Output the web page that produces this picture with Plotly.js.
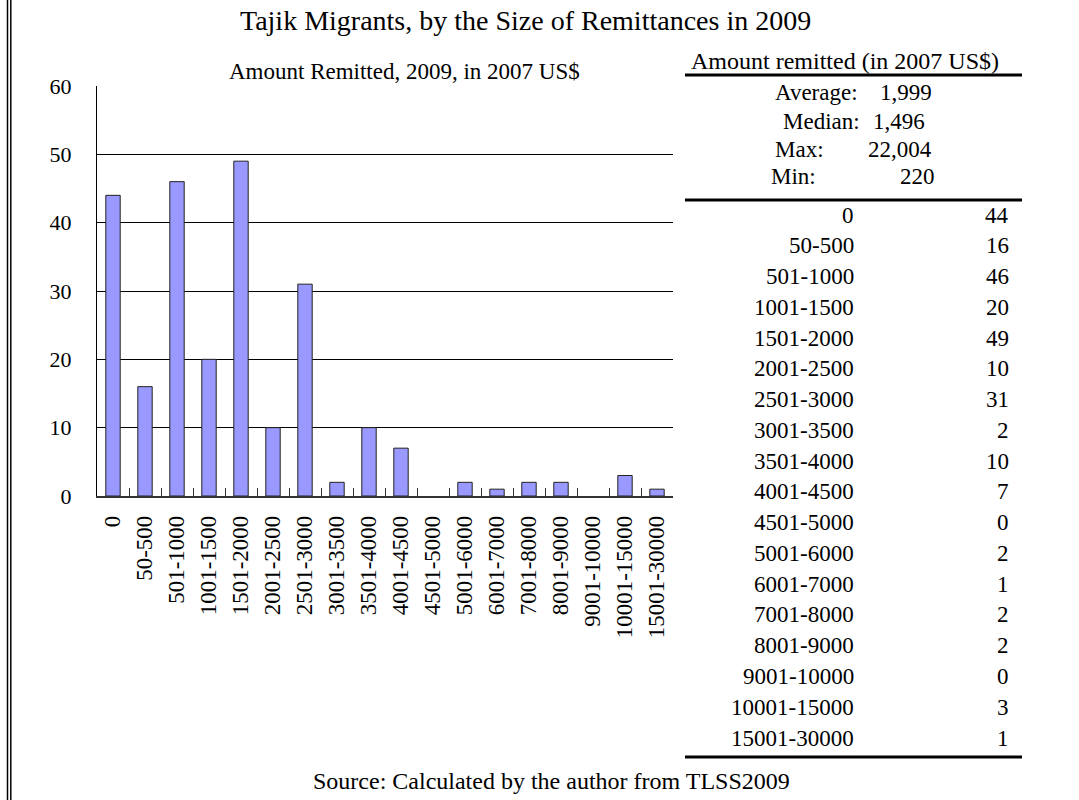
<!DOCTYPE html>
<html>
<head>
<meta charset="utf-8">
<script src="https://cdn.plot.ly/plotly-3.0.1.min.js"></script>
<style>html,body{margin:0;padding:0;background:#fff;}#chart{width:1079px;height:800px;}</style>
</head>
<body>
<div id="chart"></div>
<script>
// ---- data ----
const categories = ["0","50-500","501-1000","1001-1500","1501-2000","2001-2500","2501-3000","3001-3500","3501-4000","4001-4500","4501-5000","5001-6000","6001-7000","7001-8000","8001-9000","9001-10000","10001-15000","15001-30000"];
const counts = [44,16,46,20,49,10,31,2,10,7,0,2,1,2,2,0,3,1];
const statLabels = ["Average:","Median:","Max:","Min:"];
const statValues = ["1,999","1,496","22,004","220"];
const yTicks = [0,10,20,30,40,50,60];

const titleText = "Tajik Migrants, by the Size of Remittances in 2009";
const subTitleText = "Amount Remitted, 2009, in 2007 US$";
const tableHeader = "Amount remitted (in 2007 US$)";
const sourceText = "Source: Calculated by the author from TLSS2009";

// ---- layout helpers ----
const W = 1079, H = 800;
const px = x => x / W;
const py = y => 1 - y / H;
const FONT = '"Liberation Serif", "Times New Roman", serif';

const trace = {
  type: 'bar',
  x: categories,
  y: counts,
  marker: {color: '#9999FF', line: {color: '#222', width: counts.map(v => v > 0 ? 1 : 0)}},
  hoverinfo: 'x+y'
};

const annotations = [];
annotations.push({text: titleText, xref:'paper', yref:'paper', x: px(525), y: py(21), xanchor:'center', yanchor:'middle', showarrow:false, font:{family:FONT, size:28, color:'#000'}});
annotations.push({text: subTitleText, xref:'paper', yref:'paper', x: px(404), y: py(72), xanchor:'center', yanchor:'middle', showarrow:false, font:{family:FONT, size:23, color:'#000'}});
annotations.push({text: tableHeader, xref:'paper', yref:'paper', x: px(845), y: py(61), xanchor:'center', yanchor:'middle', showarrow:false, font:{family:FONT, size:24, color:'#000'}});
annotations.push({text: sourceText, xref:'paper', yref:'paper', x: px(551), y: py(781), xanchor:'center', yanchor:'middle', showarrow:false, font:{family:FONT, size:24, color:'#000'}});

// stats block
const statLabelX = [860, 862, 773, 769];
const statLabelAnchor = ['right','right','left','left'];
const statValueX = [934, 927, 934, 937];
statLabels.forEach((lab, i) => {
  const yy = 93 + i * 28;
  annotations.push({text: lab, xref:'paper', yref:'paper', x: px(statLabelX[i]), y: py(yy), xanchor: statLabelAnchor[i], yanchor:'middle', showarrow:false, font:{family:FONT, size:23, color:'#000'}});
  annotations.push({text: statValues[i], xref:'paper', yref:'paper', x: px(statValueX[i]), y: py(yy), xanchor:'right', yanchor:'middle', showarrow:false, font:{family:FONT, size:23, color:'#000'}});
});

// frequency table
const rowStep = (738 - 215) / (categories.length - 1);
categories.forEach((c, i) => {
  const yy = 215 + i * rowStep;
  annotations.push({text: c, xref:'paper', yref:'paper', x: px(856), y: py(yy), xanchor:'right', yanchor:'middle', showarrow:false, font:{family:FONT, size:23, color:'#000'}});
  annotations.push({text: String(counts[i]), xref:'paper', yref:'paper', x: px(1011), y: py(yy), xanchor:'right', yanchor:'middle', showarrow:false, font:{family:FONT, size:23, color:'#000'}});
});

const shapes = [
  // left double border
  {type:'line', xref:'paper', yref:'paper', x0: px(7.5), x1: px(7.5), y0: 0, y1: 1, line:{color:'#000', width:1.5}},
  {type:'line', xref:'paper', yref:'paper', x0: px(10.8), x1: px(10.8), y0: 0, y1: 1, line:{color:'#000', width:1.5}},
  // table rules
  {type:'line', xref:'paper', yref:'paper', x0: px(685), x1: px(1022), y0: py(75), y1: py(75), line:{color:'#000', width:3}},
  {type:'line', xref:'paper', yref:'paper', x0: px(685), x1: px(1022), y0: py(200), y1: py(200), line:{color:'#000', width:3}},
  {type:'line', xref:'paper', yref:'paper', x0: px(685), x1: px(1022), y0: py(757), y1: py(757), line:{color:'#000', width:3}}
];

const layout = {
  width: W, height: H,
  margin: {l:0, r:0, t:0, b:0},
  paper_bgcolor: '#fff', plot_bgcolor: '#fff',
  showlegend: false,
  bargap: 0.55,
  font: {family: FONT, color:'#000'},
  xaxis: {
    domain: [px(97), px(673)],
    type: 'category',
    tickangle: -90,
    ticks: 'inside', ticklen: 8, tickcolor: '#333', tickwidth: 1,
    tickson: 'boundaries',
    showline: true, linecolor: '#333', linewidth: 1.5,
    showgrid: false, zeroline: false,
    tickfont: {family: FONT, size: 23, color:'#000'},
    ticklabelstandoff: 9,
    automargin: false
  },
  yaxis: {
    domain: [py(496), py(86)],
    range: [0, 60],
    tickvals: yTicks,
    ticktext: yTicks.map(String),
    ticks: 'inside', ticklen: 8, tickcolor: '#000', tickwidth: 1,
    showline: true, linecolor: '#000', linewidth: 1,
    showgrid: true, gridcolor: '#000', gridwidth: 1,
    zeroline: false,
    tickfont: {family: FONT, size: 22, color:'#000'},
    ticklabelstandoff: 20,
    automargin: false
  },
  annotations: annotations,
  shapes: shapes
};

Plotly.newPlot('chart', [trace], layout, {displayModeBar:false, staticPlot:true});
</script>
</body>
</html>
